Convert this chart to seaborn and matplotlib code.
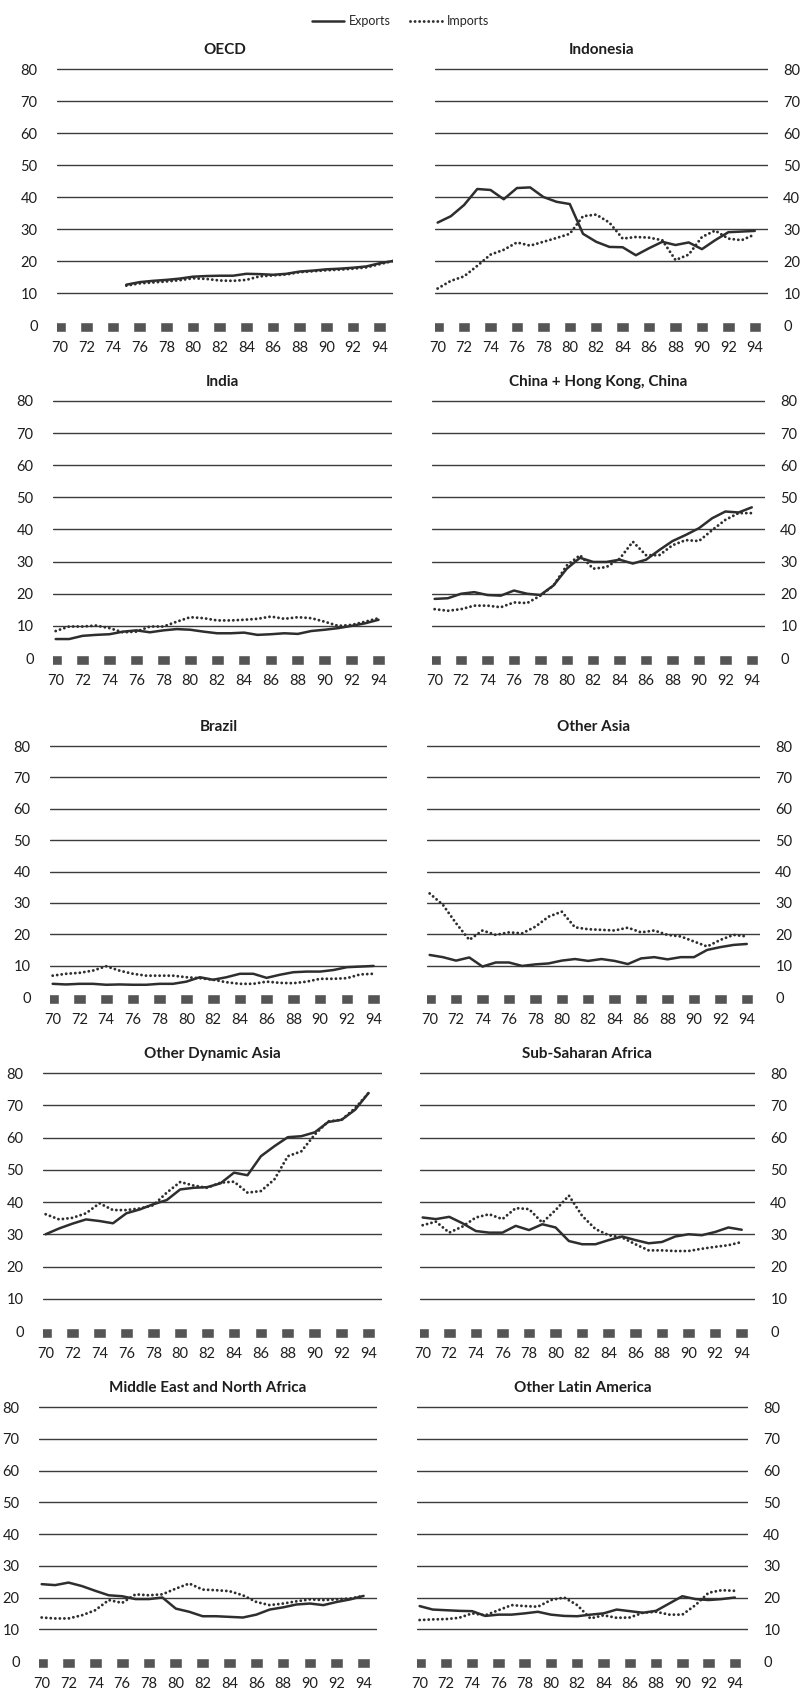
import numpy as np
import pandas as pd
import matplotlib
matplotlib.use("Agg")
import matplotlib.pyplot as plt
import seaborn as sns

# ---------------- data ----------------
years = list(range(1970, 1995))           # 70 .. 94
oecd_years = list(range(1975, 1996))      # 75 .. 95
tick_years = list(range(1970, 1995, 2))
tick_labels = [str(y % 100) for y in tick_years]
y_ticks = [0, 10, 20, 30, 40, 50, 60, 70, 80]

oecd_exports = [12.6, 13.4, 13.8, 14.1, 14.5, 15.1, 15.3, 15.4, 15.4, 16.0, 15.9,
                15.7, 16.0, 16.7, 17.0, 17.4, 17.6, 17.9, 18.3, 19.3, 20.0]
oecd_imports = [12.3, 13.0, 13.3, 13.6, 14.0, 14.6, 14.4, 13.9, 13.8, 14.1, 15.2,
                15.5, 15.8, 16.5, 16.8, 17.1, 17.3, 17.6, 18.0, 19.0, 20.0]

indonesia_exports = [32.0, 34.0, 37.5, 42.5, 42.2, 39.3, 42.8, 43.0, 40.0, 38.5, 37.8,
                     28.5, 26.0, 24.4, 24.3, 21.8, 24.0, 26.0, 25.0, 25.8, 23.7,
                     26.5, 29.0, 29.2, 29.4]
indonesia_imports = [11.4, 13.8, 15.2, 18.5, 22.0, 23.5, 25.8, 24.8, 26.0, 27.2, 28.5,
                     34.0, 34.5, 32.0, 27.0, 27.5, 27.3, 26.5, 20.3, 22.0, 27.5,
                     29.5, 27.0, 26.5, 28.3]

india_exports = [5.9, 5.9, 6.9, 7.2, 7.4, 8.2, 8.6, 8.0, 8.6, 9.0, 8.8,
                 8.2, 7.7, 7.7, 7.9, 7.2, 7.4, 7.7, 7.5, 8.4, 8.8,
                 9.3, 10.0, 10.8, 11.9]
india_imports = [8.4, 9.8, 9.8, 10.1, 9.3, 8.0, 8.2, 9.8, 9.8, 11.3, 12.7,
                 12.4, 11.7, 11.7, 11.9, 12.2, 12.9, 12.2, 12.7, 12.4, 11.3,
                 10.0, 10.3, 11.3, 12.4]

china_exports = [18.4, 18.6, 20.0, 20.5, 19.6, 19.4, 21.0, 20.0, 19.6, 22.6, 27.8,
                 31.2, 29.9, 29.9, 30.6, 29.4, 30.6, 33.6, 36.4, 38.3, 40.4,
                 43.5, 45.6, 45.3, 46.9]
china_imports = [15.2, 14.7, 15.2, 16.3, 16.3, 15.8, 17.3, 17.1, 19.4, 22.6, 28.8,
                 32.0, 27.8, 28.3, 30.9, 36.2, 32.0, 32.0, 35.1, 36.7, 36.4,
                 39.8, 43.0, 45.1, 45.1]

brazil_exports = [4.2, 4.0, 4.2, 4.2, 3.9, 4.0, 3.9, 3.9, 4.2, 4.2, 4.9,
                  6.3, 5.5, 6.3, 7.4, 7.4, 6.1, 7.1, 7.9, 8.1, 8.1,
                  8.6, 9.5, 9.7, 9.9]
brazil_imports = [6.8, 7.4, 7.7, 8.4, 9.8, 8.4, 7.4, 6.8, 6.8, 6.8, 6.3,
                  6.0, 5.5, 4.7, 4.2, 4.2, 4.9, 4.5, 4.4, 4.9, 5.8,
                  5.8, 6.0, 7.2, 7.4]

other_asia_exports = [13.4, 12.7, 11.6, 12.6, 9.7, 11.0, 11.0, 9.9, 10.4, 10.7, 11.6,
                      12.1, 11.5, 12.1, 11.5, 10.5, 12.3, 12.7, 12.0, 12.7, 12.7,
                      15.0, 15.9, 16.6, 16.9]
other_asia_imports = [33.0, 29.4, 23.5, 18.2, 21.2, 19.8, 20.6, 20.3, 22.4, 25.6, 27.2,
                      22.2, 21.6, 21.4, 21.2, 22.1, 20.6, 21.2, 19.8, 19.3, 17.7,
                      16.1, 18.2, 19.8, 19.3]

dyn_asia_exports = [30.0, 31.8, 33.3, 34.6, 34.1, 33.4, 36.5, 37.7, 39.3, 40.6, 43.9,
                    44.4, 44.6, 45.8, 49.1, 48.3, 54.2, 57.3, 60.1, 60.4, 61.6,
                    64.8, 65.5, 68.6, 73.8]
dyn_asia_imports = [36.2, 34.6, 35.1, 36.5, 39.6, 37.5, 37.5, 38.0, 39.0, 42.9, 46.2,
                    45.1, 44.4, 46.0, 46.3, 42.9, 43.4, 47.0, 54.2, 55.7, 60.9,
                    65.0, 65.5, 69.1, 73.8]

ssa_exports = [35.2, 34.7, 35.4, 33.4, 31.0, 30.5, 30.5, 32.6, 31.3, 33.1, 32.1,
               27.9, 26.9, 26.9, 28.2, 29.3, 28.2, 27.2, 27.6, 29.3, 30.0,
               29.7, 30.7, 32.1, 31.4]
ssa_imports = [32.8, 33.9, 30.5, 32.4, 35.2, 36.2, 34.7, 38.1, 37.8, 33.6, 37.5,
               42.0, 35.7, 31.6, 29.7, 29.0, 26.9, 25.0, 25.0, 24.8, 24.8,
               25.5, 26.1, 26.6, 27.6]

mena_exports = [24.2, 23.9, 24.7, 23.6, 22.1, 20.7, 20.4, 19.5, 19.5, 20.0, 16.5,
                15.5, 14.1, 14.1, 13.9, 13.7, 14.6, 16.2, 16.9, 17.8, 18.1,
                17.6, 18.6, 19.4, 20.5]
mena_imports = [13.7, 13.4, 13.4, 14.4, 16.0, 19.2, 18.3, 21.0, 20.7, 21.0, 22.8,
                24.4, 22.5, 22.3, 22.0, 20.7, 18.6, 17.6, 18.1, 18.8, 19.4,
                19.2, 19.4, 19.7, 20.5]

latam_exports = [17.3, 16.2, 16.0, 15.8, 15.7, 14.2, 14.6, 14.6, 15.0, 15.5, 14.6,
                 14.2, 14.1, 14.6, 15.0, 16.2, 15.7, 15.2, 15.8, 18.1, 20.4,
                 19.5, 19.2, 19.5, 20.0]
latam_imports = [12.9, 13.1, 13.2, 13.6, 15.0, 14.4, 16.0, 17.6, 17.3, 17.1, 19.2,
                 20.0, 17.6, 13.4, 14.4, 13.6, 13.7, 15.2, 15.5, 14.6, 14.6,
                 17.6, 21.5, 22.3, 22.1]

titles = ["OECD", "Indonesia", "India", "China + Hong Kong, China", "Brazil",
          "Other Asia", "Other Dynamic Asia", "Sub-Saharan Africa",
          "Middle East and North Africa", "Other Latin America"]

panel_data = [
    (oecd_years, oecd_exports, oecd_imports),
    (years, indonesia_exports, indonesia_imports),
    (years, india_exports, india_imports),
    (years, china_exports, china_imports),
    (years, brazil_exports, brazil_imports),
    (years, other_asia_exports, other_asia_imports),
    (years, dyn_asia_exports, dyn_asia_imports),
    (years, ssa_exports, ssa_imports),
    (years, mena_exports, mena_imports),
    (years, latam_exports, latam_imports),
]

# ---------------- layout (pixels) ----------------
W, H = 801, 1701
# (x_left, x_right) of gridlines, per panel
x_extents = [(57, 393), (435, 768), (53, 392), (432, 765), (50, 387), (427, 760),
             (43, 382), (420, 755), (39, 377), (417, 748)]
# (y of 80 line, y of 0 line), per row
y_extents = [(69, 325), (401, 658), (746, 997), (1073, 1331), (1407, 1661)]

YMIN, YMAX = -2.5, 82
XMIN, XMAX = 1969.8, 1995.0

sns.set_theme(style="white")
plt.rcParams["font.family"] = ["Lato", "DejaVu Sans"]
LINE = "#2e2e2e"
GRID = "#3c3c3c"
TXT = "#1e1e1e"
DOTS = (0, (0.01, 1.55))

fig = plt.figure(figsize=(W / 100, H / 100), dpi=100)

handles = None
for i, (title, (yrs, exp, imp)) in enumerate(zip(titles, panel_data)):
    row, col = divmod(i, 2)
    xl, xr = x_extents[i]
    y80, y0 = y_extents[row]
    s = (y0 - y80) / 80.0
    top_px = y80 - (YMAX - 80) * s
    bot_px = y0 + (0 - YMIN) * s
    ax = fig.add_axes([xl / W, 1 - bot_px / H, (xr - xl) / W, (bot_px - top_px) / H])

    df = pd.DataFrame({"year": yrs, "Exports": exp, "Imports": imp})
    sns.lineplot(data=df, x="year", y="Exports", ax=ax, color=LINE, lw=1.8,
                 label="Exports", legend=False)
    sns.lineplot(data=df, x="year", y="Imports", ax=ax, color=LINE, lw=2.1,
                 linestyle=DOTS, dash_capstyle="round",
                 label="Imports", legend=False)

    # square dashes along the zero axis
    ax.bar(tick_years, 3.0, bottom=-2.1, width=0.95, color="#555555", zorder=1)

    ax.set_xlim(XMIN, XMAX)
    ax.set_ylim(YMIN, YMAX)
    ax.set_yticks(y_ticks)
    ax.set_xticks(tick_years)
    ax.set_xticklabels(tick_labels)
    ax.grid(axis="y", color=GRID, lw=1.0)
    ax.get_ygridlines()[0].set_visible(False)
    ax.grid(axis="x", visible=False)
    for sp in ax.spines.values():
        sp.set_visible(False)
    ax.set_xlabel("")
    ax.set_ylabel("")
    ax.tick_params(axis="x", length=0, pad=6, labelsize=10.5, colors=TXT)
    ax.tick_params(axis="y", length=0, labelsize=10.5, colors=TXT)
    if col == 0:
        ax.tick_params(axis="y", pad=14)
    else:
        ax.yaxis.tick_right()
        ax.tick_params(axis="y", pad=11)
    ax.set_title(title, fontsize=11, fontweight="bold", color=TXT, pad=6)
    if handles is None:
        handles = ax.get_lines()[:2]

fig.legend(handles, ["Exports", "Imports"], loc="center", ncol=2,
           bbox_to_anchor=(0.5, 1 - 21 / H), frameon=False, fontsize=9,
           handlelength=2.6, columnspacing=1.5, handletextpad=0.4)

fig.savefig("out.png", dpi=100, facecolor="white")
